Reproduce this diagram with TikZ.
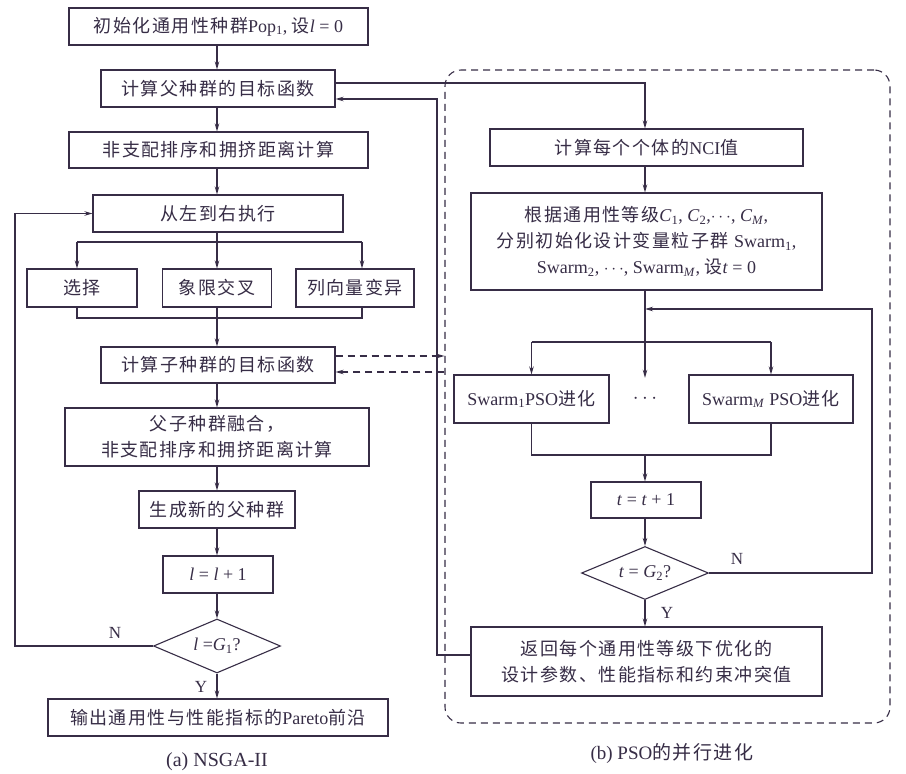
\documentclass[tikz,border=0pt]{standalone}
\usepackage{fontspec}
\setmainfont{Noto Sans CJK SC}[LetterSpace=8]
\newfontfamily\lat{Liberation Serif}
\usetikzlibrary{arrows.meta,shapes.geometric}
\definecolor{ink}{RGB}{55,45,70}
\tikzset{
  box/.style={draw=ink, line width=1.1pt, text=ink, font=\fontsize{18}{26}\selectfont, align=center, inner sep=0pt},
  dec/.style={diamond, draw=ink, line width=1.1pt, text=ink, font=\fontsize{18}{20}\selectfont, inner sep=0pt, aspect=2.35},
  ln/.style={draw=ink, line width=1.1pt},
  arr/.style={draw=ink, line width=1.1pt, -{Stealth[length=8pt,width=4.5pt]}},
  dsh/.style={draw=ink, line width=1.1pt, dash pattern=on 7pt off 5pt},
  lbl/.style={text=ink, font=\lat\fontsize{17}{20}\selectfont, inner sep=0pt},
  captxt/.style={text=ink, font=\lat\fontsize{20}{24}\selectfont, inner sep=0pt},
}
\begin{document}
\begin{tikzpicture}[x=1pt,y=-1pt]
\useasboundingbox[fill=white] (0,0) rectangle (906,774);

% ---------- (a) NSGA-II ----------
\node[box, minimum width=299pt, minimum height=37pt] (b1) at (218.5,26.5) {初始化通用性种群{\lat Pop\textsubscript{1}, }设{\lat\textit{l} = 0}};
\node[box, minimum width=234pt, minimum height=37pt] (b2) at (218,88.5) {计算父种群的目标函数};
\node[box, minimum width=299pt, minimum height=36pt] (b3) at (218.5,150) {非支配排序和拥挤距离计算};
\node[box, minimum width=250pt, minimum height=37pt] (b4) at (218,213.5) {从左到右执行};
\node[box, minimum width=110pt, minimum height=38pt] (sel) at (82,288) {选择};
\node[box, minimum width=109pt, minimum height=38pt] (crs) at (217,288) {象限交叉};
\node[box, minimum width=118pt, minimum height=38pt] (mut) at (355,288) {列向量变异};
\node[box, minimum width=234pt, minimum height=36pt] (b5) at (218,365) {计算子种群的目标函数};
\node[box, minimum width=304pt, minimum height=58pt] (b6) at (217,437) {父子种群融合，\\非支配排序和拥挤距离计算};
\node[box, minimum width=156pt, minimum height=37pt] (b7) at (217,509.5) {生成新的父种群};
\node[box, minimum width=110pt, minimum height=37pt] (b8) at (218,574.5) {{\lat\textit{l} = \textit{l} + 1}};
\node[dec, minimum width=127pt, minimum height=54pt] (d1) at (217,646) {{\lat\textit{l} =\textit{G}\textsubscript{1}?}};
\node[box, minimum width=340pt, minimum height=37pt] (b9) at (218,717.5) {输出通用性与性能指标的{\lat Pareto}前沿};
\node[captxt] (capa) at (217,762) {(a) NSGA-II};
\node[lbl] (na) at (115,633) {N};
\node[lbl] (ya) at (201,687) {Y};

\coordinate (bl) at (77,242);
\coordinate (bm) at (217,242);
\coordinate (brr) at (362,242);
\coordinate (ml) at (77,318);
\coordinate (mm) at (217,318);
\coordinate (mr) at (362,318);
\coordinate (L) at (15,0);

\draw[arr] (b1.south -| bm) -- (b2.north -| bm);
\draw[arr] (b2.south -| bm) -- (b3.north -| bm);
\draw[arr] (b3.south -| bm) -- (b4.north -| bm);
\draw[ln] (b4.south -| bm) -- (bm);
\draw[ln] (bl) -- (brr);
\draw[arr] (bl) -- (bl |- sel.north);
\draw[arr] (bm) -- (bm |- crs.north);
\draw[arr] (brr) -- (brr |- mut.north);
\draw[ln] (ml |- sel.south) -- (ml) -- (mr) -- (mr |- mut.south);
\draw[ln] (crs.south) -- (mm);
\draw[arr] (mm) -- (mm |- b5.north);
\draw[arr] (b5.south -| bm) -- (b6.north -| bm);
\draw[arr] (b6.south -| bm) -- (b7.north -| bm);
\draw[arr] (b7.south -| bm) -- (b8.north -| bm);
\draw[arr] (b8.south -| bm) -- (d1.north);
\draw[arr] (d1.south) -- (d1.south |- b9.north);
\draw[arr] (d1.west) -- (d1.west -| L) |- (b4.west);

% ---------- (b) PSO ----------
\node[draw=ink, line width=1.1pt, dash pattern=on 7pt off 5pt, rounded corners=16pt, minimum width=445pt, minimum height=653pt, inner sep=0pt] (frame) at (667.5,396.5) {};
\node[box, minimum width=313pt, minimum height=37pt] (nci) at (646.5,147.5) {计算每个个体的{\lat NCI}值};
\node[box, minimum width=351pt, minimum height=97pt] (init) at (646.5,241.5) {根据通用性等级{\lat\textit{C}\textsubscript{1}, \textit{C}\textsubscript{2},$\cdots$, \textit{C}\textsubscript{\textit{M}},}\\分别初始化设计变量粒子群 {\lat Swarm\textsubscript{1},}\\{\lat Swarm\textsubscript{2}, $\cdots$, Swarm\textsubscript{\textit{M}}, }设{\lat\textit{t} = 0}};
\node[box, minimum width=155pt, minimum height=48pt] (sw1) at (531.5,399) {{\lat Swarm\textsubscript{1}PSO}进化};
\node[text=ink, minimum height=42pt, inner sep=0pt, font=\fontsize{22}{24}\selectfont] (dots) at (645,399) {$\cdots$};
\node[box, minimum width=164pt, minimum height=48pt] (swM) at (771,399) {{\lat Swarm\textsubscript{\textit{M}} PSO}进化};
\node[box, minimum width=110pt, minimum height=36pt] (bt) at (646,500) {{\lat\textit{t} = \textit{t} + 1}};
\node[dec, minimum width=127pt, minimum height=53pt] (d2) at (645,573) {{\lat\textit{t} = \textit{G}\textsubscript{2}?}};
\node[box, minimum width=351pt, minimum height=69pt] (res) at (646.5,661.5) {返回每个通用性等级下优化的\\设计参数、性能指标和约束冲突值};
\node[captxt, font=\lat\fontsize{19}{24}\selectfont] (capb) at (672,753) {(b) PSO\fontspec{Noto Sans CJK SC}[LetterSpace=8]的并行进化};
\node[lbl] (nb) at (737,559) {N};
\node[lbl] (yb) at (667,613) {Y};

\coordinate (cx) at (645,0);
\coordinate (J) at (645,309);
\coordinate (brb) at (645,342);
\coordinate (mg) at (645,455);
\coordinate (RR) at (872,0);
\coordinate (R) at (437,0);

\draw[arr] ([yshift=5.5pt]b2.east) -| (nci.north -| cx);
\draw[arr] (nci.south -| cx) -- (init.north -| cx);
\draw[arr] (init.south -| cx) -- (dots.north);
\draw[ln] (sw1.north |- brb) -- (swM.north |- brb);
\draw[arr] (sw1.north |- brb) -- (sw1.north);
\draw[arr] (swM.north |- brb) -- (swM.north);
\draw[ln] (sw1.south) -- (sw1.south |- mg) -- (swM.south |- mg) -- (swM.south);
\draw[arr] (mg) -- (mg |- bt.north);
\draw[arr] (bt.south -| cx) -- (d2.north);
\draw[arr] (d2.south) -- (d2.south |- res.north);
\draw[arr] (d2.east) -- (d2.east -| RR) |- (J);
\draw[arr] ([yshift=6.5pt]res.west) -- ([yshift=6.5pt]res.west -| R) |- ([yshift=-10.5pt]b2.east);

% dashed links between b5 and the PSO frame
\draw[dsh, -{Stealth[length=8pt,width=4.5pt]}] ([yshift=9pt]b5.east) -- ([yshift=9pt]b5.east -| frame.west);
\draw[dsh, -{Stealth[length=8pt,width=4.5pt]}] ([yshift=-7pt]b5.east -| frame.west) -- ([yshift=-7pt]b5.east);
\end{tikzpicture}
\end{document}
